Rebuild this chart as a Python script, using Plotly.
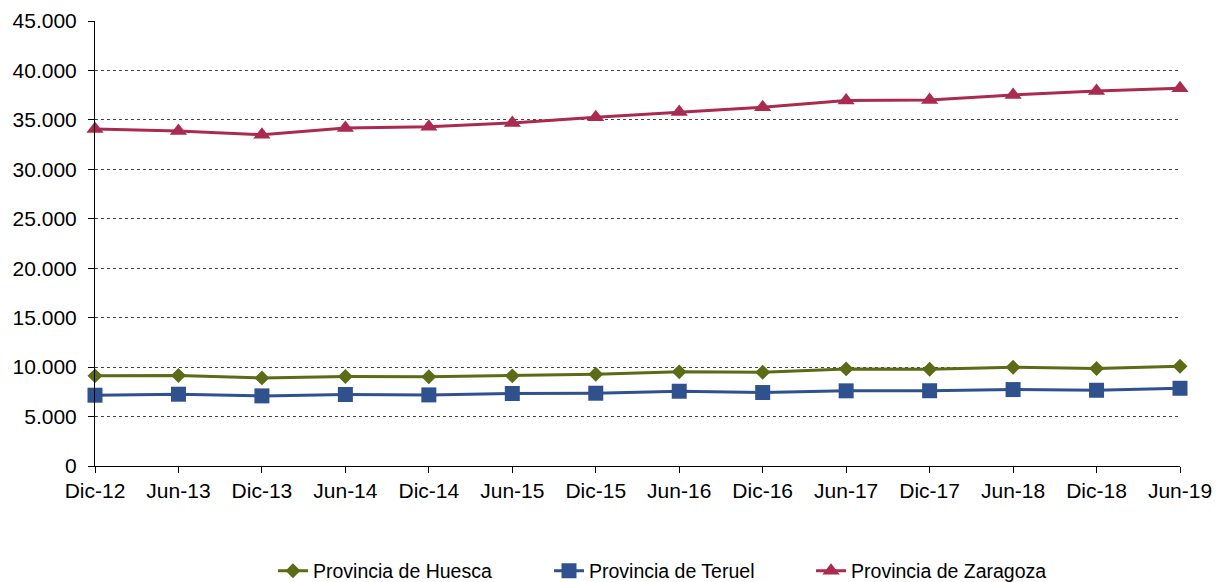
import plotly.graph_objects as go

categories = ["Dic-12", "Jun-13", "Dic-13", "Jun-14", "Dic-14", "Jun-15", "Dic-15",
              "Jun-16", "Dic-16", "Jun-17", "Dic-17", "Jun-18", "Dic-18", "Jun-19"]
huesca = [9115, 9150, 8910, 9045, 9020, 9115, 9280, 9520, 9480, 9820, 9790, 9990, 9855, 10090]
teruel = [7160, 7260, 7090, 7230, 7190, 7330, 7360, 7560, 7430, 7600, 7610, 7730, 7660, 7860]
zaragoza = [34080, 33880, 33500, 34180, 34310, 34690, 35260, 35800, 36270, 36970, 37000, 37520, 37920, 38190]
y_ticks = [0, 5000, 10000, 15000, 20000, 25000, 30000, 35000, 40000, 45000]
y_tick_labels = ["0", "5.000", "10.000", "15.000", "20.000", "25.000", "30.000", "35.000", "40.000", "45.000"]

series = [
    ("Provincia de Huesca", huesca, "#5B6B16", "diamond", 11.5, "legend", 0.2179),
    ("Provincia de Teruel", teruel, "#2F528F", "square", 15, "legend2", 0.4449),
    ("Provincia de Zaragoza", zaragoza, "#AA2B4F", "triangle-up", 15, "legend3", 0.6604),
]

fig = go.Figure()
for name, vals, color, symbol, size, leg, _ in series:
    fig.add_trace(go.Scatter(
        x=categories, y=vals, name=name, mode="lines+markers",
        line=dict(color=color, width=3),
        marker=dict(symbol=symbol, size=size, color=color),
        cliponaxis=False, legend=leg,
    ))

font = "Liberation Sans, Arial, sans-serif"
legends = {}
for name, vals, color, symbol, size, leg, lx in series:
    legends[leg] = dict(orientation="h", xref="container", x=lx, xanchor="left",
                        yref="container", y=0.0192, yanchor="middle",
                        font=dict(size=19.5), bgcolor="rgba(0,0,0,0)")

fig.update_layout(
    width=1216, height=574,
    margin=dict(l=87, r=44, t=13, b=115.5, autoexpand=False),
    paper_bgcolor="white", plot_bgcolor="white",
    font=dict(family=font, size=20, color="black"),
    showlegend=True,
    **legends,
    xaxis=dict(
        type="category", range=[0, 13], showgrid=False, automargin=False,
        showline=True, linecolor="black", linewidth=1,
        ticks="outside", ticklen=6, tickcolor="black",
        tickfont=dict(size=21),
    ),
    yaxis=dict(
        range=[0, 45000], tickvals=y_ticks, ticktext=y_tick_labels, automargin=False,
        showgrid=True, gridcolor="#444444", gridwidth=1, griddash="dot",
        showline=True, linecolor="black", linewidth=1,
        ticks="outside", ticklen=6, tickcolor="black", ticklabelstandoff=7,
        zeroline=False, tickfont=dict(size=21),
    ),
)

fig.write_html("out.html")
